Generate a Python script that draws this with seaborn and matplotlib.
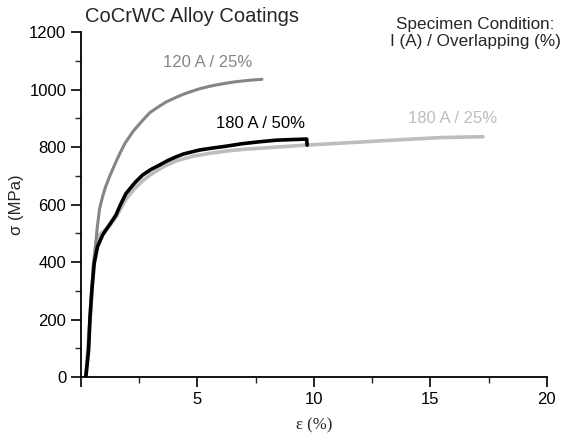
import numpy as np
import pandas as pd
import matplotlib
matplotlib.use('Agg')
import matplotlib.pyplot as plt
from matplotlib.ticker import MultipleLocator
import seaborn as sns

# curves (strain %, stress MPa)
gray120_x = [0.2, 0.3, 0.38, 0.46, 0.54, 0.62, 0.7, 0.8, 0.92, 1.05, 1.24, 1.5, 1.7, 1.89,
             2.24, 2.65, 2.96, 3.36, 3.68, 4.08, 4.4, 4.79, 5.1, 5.5, 5.85, 6.22, 6.6, 6.94,
             7.3, 7.65, 7.77]
gray120_y = [0, 90, 200, 300, 390, 450, 520, 585, 625, 660, 700, 748, 783, 813,
             855, 893, 920, 942, 958, 973, 984, 995, 1003, 1011, 1017, 1022, 1027, 1030,
             1033, 1035, 1036]

black_x = [0.21, 0.27, 0.33, 0.39, 0.47, 0.57, 0.71, 0.93, 1.22, 1.5, 1.7, 1.93, 2.15, 2.36,
           2.65, 3.0, 3.36, 3.7, 4.08, 4.4, 4.79, 5.1, 5.5, 6.22, 6.94, 7.6, 8.37, 9.0,
           9.69, 9.71]
black_y = [0, 45, 94, 210, 303, 395, 453, 494, 529, 563, 600, 638, 660, 680,
           703, 722, 737, 752, 766, 776, 784, 790, 795, 803, 812, 818, 824, 826,
           828, 807]

light_x = [0.2, 0.25, 0.29, 0.36, 0.43, 0.53, 0.62, 0.7, 0.8, 0.93, 1.22, 1.5, 1.93, 2.3,
           2.65, 3.0, 3.5, 4.08, 4.79, 5.5, 6.22, 6.94, 8.37, 9.69, 11.0, 12.5, 14.0, 15.4,
           16.5, 17.25]
light_y = [0, 50, 94, 160, 233, 383, 450, 480, 495, 505, 525, 555, 618, 655,
           683, 705, 730, 752, 768, 778, 786, 792, 800, 807, 813, 820, 827, 833,
           835, 836]

series_names = ['120 A / 25%', '180 A / 50%', '180 A / 25%']
series_colors = ['#858585', '#000000', '#bdbdbd']

frames = []
for name, xs, ys in zip(series_names, [gray120_x, black_x, light_x], [gray120_y, black_y, light_y]):
    frames.append(pd.DataFrame({'strain': xs, 'stress': ys, 'cond': name}))
df = pd.concat(frames, ignore_index=True)

sns.set_style('ticks')
plt.rcParams['font.family'] = ['Liberation Sans', 'DejaVu Sans']

fig = plt.figure(figsize=(5.62, 4.40), dpi=100)
ax = fig.add_axes([0.144, 0.143, 0.829, 0.784])

# light first so black sits on top
for name, col, lw in [(series_names[2], series_colors[2], 2.6), (series_names[0], series_colors[0], 2.2),
                      (series_names[1], series_colors[1], 2.6)]:
    sub = df[df['cond'] == name]
    sns.lineplot(data=sub, x='strain', y='stress', color=col, lw=lw, sort=False,
                 estimator=None, ax=ax, legend=False)

ax.set_xlim(0, 20)
ax.set_ylim(0, 1200)
ax.set_xticks([0, 5, 10, 15, 20])
ax.set_xticklabels(['', '5', '10', '15', '20'])
ax.set_yticks(range(0, 1201, 200))
ax.xaxis.set_minor_locator(MultipleLocator(2.5))
ax.yaxis.set_minor_locator(MultipleLocator(100))
ax.tick_params(which='major', direction='out', length=7, width=1.2, labelsize=12, colors='black')
ax.tick_params(which='minor', direction='out', length=4, width=1.0)
sns.despine(ax=ax)
for s in ['left', 'bottom']:
    ax.spines[s].set_linewidth(1.3)
    ax.spines[s].set_color('black')

ax.set_xlabel('ε (%)', fontsize=12, family=['Liberation Serif', 'DejaVu Serif'], labelpad=8)
ax.set_ylabel('σ (MPa)', fontsize=12, labelpad=4)

# curve labels
ax.text(5.45, 1096, '120 A / 25%', color=series_colors[0], fontsize=12, ha='center', va='center')
ax.text(7.73, 883, '180 A / 50%', color=series_colors[1], fontsize=12, ha='center', va='center')
ax.text(15.97, 901, '180 A / 25%', color=series_colors[2], fontsize=12, ha='center', va='center')

fig.text(85 / 562, 1 - 17 / 440, 'CoCrWC Alloy Coatings', fontsize=14.5, ha='left', va='center')
fig.text(475 / 562, 1 - 33 / 440, 'Specimen Condition:\nI (A) / Overlapping (%)', fontsize=12.3,
         ha='center', va='center', linespacing=1.17)

fig.savefig('out.png', dpi=100)
